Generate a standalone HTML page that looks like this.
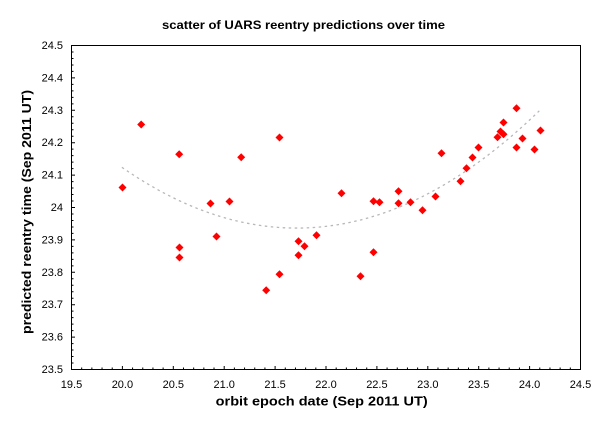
<!DOCTYPE html>
<html>
<head>
<meta charset="utf-8">
<style>
html,body{margin:0;padding:0;background:#fff;}
svg{display:block;}
text{font-family:"Liberation Sans",Arial,sans-serif;fill:#000;}
</style>
</head>
<body>
<svg width="607" height="437" viewBox="0 0 607 437" xmlns="http://www.w3.org/2000/svg">
<rect x="0" y="0" width="607" height="437" fill="#fff"/>
<!-- title -->
<text x="303.5" y="29" font-size="12" font-weight="bold" text-anchor="middle" textLength="283" lengthAdjust="spacingAndGlyphs">scatter of UARS reentry predictions over time</text>

<!-- frame -->
<rect x="71.5" y="45.5" width="509" height="324" fill="none" stroke="#000" stroke-width="1"/>

<!-- y ticks -->
<g stroke="#000" stroke-width="1">
<path d="M72 45.5h3M72 77.9h3M72 110.3h3M72 142.7h3M72 175.1h3M72 207.5h3M72 239.9h3M72 272.3h3M72 304.7h3M72 337.1h3M72 369.5h3"/>
</g>
<g stroke="#000" stroke-width="1" id="ymin">
<path d="M72 51.98h1.5M72 58.46h1.5M72 64.94h1.5M72 71.42h1.5
M72 84.38h1.5M72 90.86h1.5M72 97.34h1.5M72 103.82h1.5
M72 116.78h1.5M72 123.26h1.5M72 129.74h1.5M72 136.22h1.5
M72 149.18h1.5M72 155.66h1.5M72 162.14h1.5M72 168.62h1.5
M72 181.58h1.5M72 188.06h1.5M72 194.54h1.5M72 201.02h1.5
M72 213.98h1.5M72 220.46h1.5M72 226.94h1.5M72 233.42h1.5
M72 246.38h1.5M72 252.86h1.5M72 259.34h1.5M72 265.82h1.5
M72 278.78h1.5M72 285.26h1.5M72 291.74h1.5M72 298.22h1.5
M72 311.18h1.5M72 317.66h1.5M72 324.14h1.5M72 330.62h1.5
M72 343.58h1.5M72 350.06h1.5M72 356.54h1.5M72 363.02h1.5"/>
</g>

<!-- x ticks -->
<g stroke="#000" stroke-width="1">
<path d="M71.5 369v-3M122.4 369v-3M173.3 369v-3M224.2 369v-3M275.1 369v-3M326 369v-3M376.9 369v-3M427.8 369v-3M478.7 369v-3M529.6 369v-3M580.5 369v-3"/>
</g>
<g stroke="#000" stroke-width="1" id="xmin"></g>

<!-- y tick labels -->
<g font-size="11" text-anchor="end">
<text x="63" y="49">24.5</text>
<text x="63" y="81.4">24.4</text>
<text x="63" y="113.8">24.3</text>
<text x="63" y="146.2">24.2</text>
<text x="63" y="178.6">24.1</text>
<text x="63" y="211">24</text>
<text x="63" y="243.4">23.9</text>
<text x="63" y="275.8">23.8</text>
<text x="63" y="308.2">23.7</text>
<text x="63" y="340.6">23.6</text>
<text x="63" y="373">23.5</text>
</g>

<!-- x tick labels -->
<g font-size="11" text-anchor="middle">
<text x="71.5" y="388">19.5</text>
<text x="122.4" y="388">20.0</text>
<text x="173.3" y="388">20.5</text>
<text x="224.2" y="388">21.0</text>
<text x="275.1" y="388">21.5</text>
<text x="326" y="388">22.0</text>
<text x="376.9" y="388">22.5</text>
<text x="427.8" y="388">23.0</text>
<text x="478.7" y="388">23.5</text>
<text x="529.6" y="388">24.0</text>
<text x="580.5" y="388">24.5</text>
</g>

<!-- axis titles -->
<text x="321.7" y="405.5" font-size="13" font-weight="bold" text-anchor="middle" textLength="212" lengthAdjust="spacingAndGlyphs">orbit epoch date (Sep 2011 UT)</text>
<text transform="translate(31,212) rotate(-90)" x="0" y="0" font-size="13" font-weight="bold" text-anchor="middle" textLength="244" lengthAdjust="spacingAndGlyphs">predicted reentry time (Sep 2011 UT)</text>

<!-- fit curve -->
<path d="M121.9 167.3 Q330.6 312.5 539.3 110.8" fill="none" stroke="#b8b8b8" stroke-width="1.3" stroke-dasharray="2.5 3.5"/>

<!-- points -->
<g fill="#ff0000" id="pts"></g>
</svg>
<script>
(function(){
  var ns="http://www.w3.org/2000/svg";
  var xm=document.getElementById("xmin");
  var d="";
  for(var i=0;i<50;i++){
    if(i%5===0) continue;
    var x=71.5+i*10.18;
    d+="M"+x.toFixed(2)+" 369v-1.5";
  }
  var p=document.createElementNS(ns,"path");
  p.setAttribute("d",d);
  xm.appendChild(p);
  var pts=[[122,187],[140.7,124],[178.7,153.7],[179,247],[179,257],[210,203],[216,236],[229,201],[240.7,156.7],[265.7,289.7],[279,137],[279,273.7],[298,240.7],[298,254.7],[304,245.7],[316,234.7],[341,192.7],[360,275.7],[373,251.7],[373,200.7],[379,201.7],[398,190.7],[398,202.7],[410,201.7],[422,209.7],[435,196],[441,152.7],[460,180.7],[466,167.7],[472,157],[478,147],[497,136.7],[500,131],[503,133.7],[503,122],[516,107.7],[516,147],[522,138],[534,149],[540,130]];
  var g=document.getElementById("pts");
  var r=4;
  pts.forEach(function(q){
    var x=q[0]+0.5,y=q[1]+0.5;
    var poly=document.createElementNS(ns,"polygon");
    poly.setAttribute("points",x+","+(y-r)+" "+(x+r)+","+y+" "+x+","+(y+r)+" "+(x-r)+","+y);
    g.appendChild(poly);
  });
})();
</script>
</body>
</html>
